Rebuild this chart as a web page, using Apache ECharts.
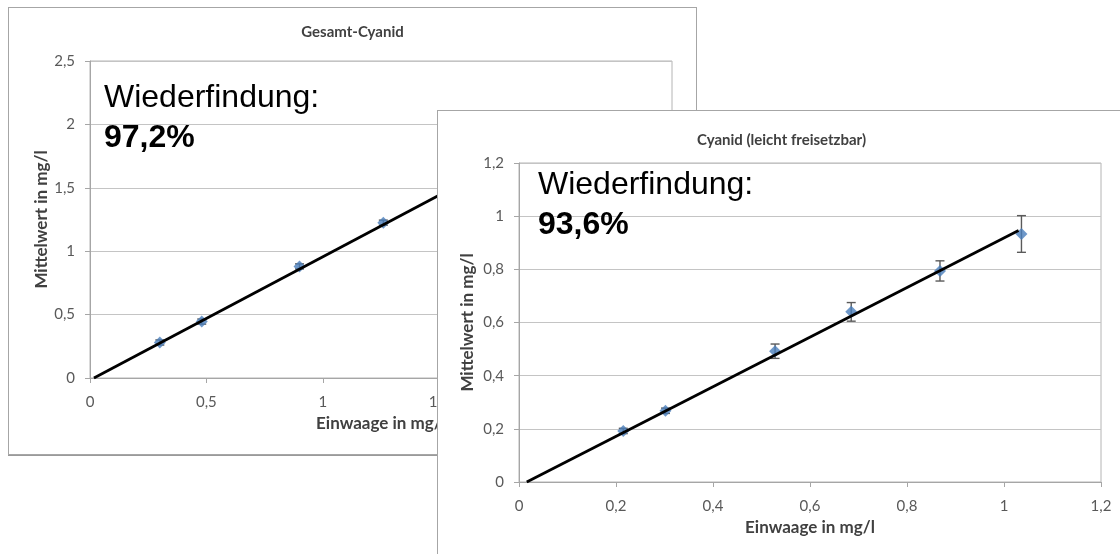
<!DOCTYPE html>
<html><head><meta charset="utf-8">
<script src="https://cdn.jsdelivr.net/npm/echarts@6/dist/echarts.min.js"></script>
<style>
html,body{margin:0;padding:0;width:1120px;height:554px;overflow:hidden;background:#fff;position:relative}
.box{position:absolute;width:689px;height:448px;background:#fff;border:1px solid #a6a6a6;box-sizing:border-box}
#c1{left:8px;top:7px;box-shadow:0 1px 0 #9a9a9a}
#c2{left:437px;top:110px}
</style></head><body>
<div id="c1" class="box"></div><div id="c2" class="box"></div>
<script>
// ---- data ----
const titleLeft = 'Gesamt-Cyanid';
const titleRight = 'Cyanid (leicht freisetzbar)';
const xAxisName = 'Einwaage in mg/l';
const yAxisName = 'Mittelwert in mg/l';
const recoveryLabel = 'Wiederfindung:';

const leftTicks = [0, 0.5, 1, 1.5, 2, 2.5];
const leftX = [0.30, 0.48, 0.90, 1.26];
const leftY = [0.28, 0.445, 0.88, 1.225];
const leftErr = [0.02, 0.02, 0.02, 0.02];
const leftTrend = [[0.017, 0], [1.55, 1.49]];
const leftRecovery = '97,2%';

const rightTicks = [0, 0.2, 0.4, 0.6, 0.8, 1, 1.2];
const rightX = [0.215, 0.302, 0.528, 0.685, 0.868, 1.036];
const rightY = [0.192, 0.268, 0.492, 0.640, 0.794, 0.933];
const rightErr = [0.01, 0.01, 0.027, 0.035, 0.038, 0.069];
const rightTrend = [[0.016, 0], [1.03, 0.946]];
const rightRecovery = '93,6%';

// ---- styling ----
const LABEL_FONT = 'Lato, "Open Sans", sans-serif';
const fmt = v => Number(v.toFixed(2)).toString().replace('.', ',');

function errRender(params, api) {
  const x = api.value(0), y = api.value(1), e = api.value(2);
  const t = api.coord([x, y + e]), b = api.coord([x, y - e]);
  const cap = 4.5;
  const style = { stroke: '#5a5a5a', lineWidth: 1.4, fill: null };
  return { type: 'group', children: [
    { type: 'line', shape: { x1: t[0], y1: t[1], x2: b[0], y2: b[1] }, style },
    { type: 'line', shape: { x1: t[0] - cap, y1: t[1], x2: t[0] + cap, y2: t[1] }, style },
    { type: 'line', shape: { x1: b[0] - cap, y1: b[1], x2: b[0] + cap, y2: b[1] }, style }
  ]};
}

function makeOption(cfg) {
  const ticks = cfg.ticks;
  const interval = ticks[1] - ticks[0];
  const axisCommon = {
    min: ticks[0], max: ticks[ticks.length - 1], interval: interval,
    axisLine: { show: true, lineStyle: { color: '#a6a6a6', width: 1 } },
    axisTick: { show: true, length: 5, lineStyle: { color: '#a6a6a6' } },
    axisLabel: { color: '#595959', fontSize: 15, fontFamily: LABEL_FONT, formatter: fmt },
    nameLocation: 'middle',
    nameMoveOverlap: false,
    nameTextStyle: { color: '#404040', fontSize: 17, fontWeight: 'bold', fontFamily: LABEL_FONT }
  };
  return {
    animation: false,
    backgroundColor: '#fff',
    title: { text: cfg.title, left: 'center', top: cfg.titleTop,
      textStyle: { color: '#404040', fontSize: 15, fontWeight: 'bold', fontFamily: LABEL_FONT } },
    grid: { left: 81, top: cfg.gridTop, width: 582, height: cfg.gridHeight, show: true,
      borderColor: '#b4b4b4', borderWidth: 1, backgroundColor: 'transparent' },
    xAxis: Object.assign({}, axisCommon, { type: 'value', name: xAxisName, nameGap: cfg.xNameGap,
      axisLabel: Object.assign({}, axisCommon.axisLabel, { margin: 17 }),
      splitLine: { show: false } }),
    yAxis: Object.assign({}, axisCommon, { type: 'value', name: yAxisName, nameGap: cfg.yNameGap,
      axisLabel: Object.assign({}, axisCommon.axisLabel, { margin: 15 }),
      splitLine: { show: true, lineStyle: { color: '#c4c4c4', width: 1 } } }),
    graphic: [
      { type: 'text', left: cfg.textLeft, top: cfg.textTop, z: 100,
        style: { text: recoveryLabel, font: '32px "Liberation Sans", Arial, sans-serif', fill: '#000' } },
      { type: 'text', left: cfg.textLeft, top: cfg.textTop + 40, z: 100,
        style: { text: cfg.recovery, font: 'bold 32px "Liberation Sans", Arial, sans-serif', fill: '#000' } }
    ],
    series: [
      { type: 'custom', renderItem: errRender, z: 3,
        data: cfg.xs.map((x, i) => [x, cfg.ys[i], cfg.errs[i]]) },
      { type: 'scatter', symbol: 'diamond', symbolSize: 12, z: 4,
        itemStyle: { color: '#4a7ebb' },
        data: cfg.xs.map((x, i) => [x, cfg.ys[i]]) },
      { type: 'line', data: cfg.trend, showSymbol: false, symbol: 'none', z: 5,
        lineStyle: { color: '#000', width: 2.8 } }
    ]
  };
}

const c1 = echarts.init(document.getElementById('c1'), null, { renderer: 'canvas' });
c1.setOption(makeOption({ title: titleLeft, titleTop: 12, gridTop: 53, gridHeight: 317,
  ticks: leftTicks, xs: leftX, ys: leftY, errs: leftErr, trend: leftTrend,
  recovery: leftRecovery, textLeft: 95, textTop: 74, xNameGap: 37, yNameGap: 40 }));

const c2 = echarts.init(document.getElementById('c2'), null, { renderer: 'canvas' });
c2.setOption(makeOption({ title: titleRight, titleTop: 17, gridTop: 52, gridHeight: 319,
  ticks: rightTicks, xs: rightX, ys: rightY, errs: rightErr, trend: rightTrend,
  recovery: rightRecovery, textLeft: 100, textTop: 58, xNameGap: 37, yNameGap: 43 }));
</script>
</body></html>
